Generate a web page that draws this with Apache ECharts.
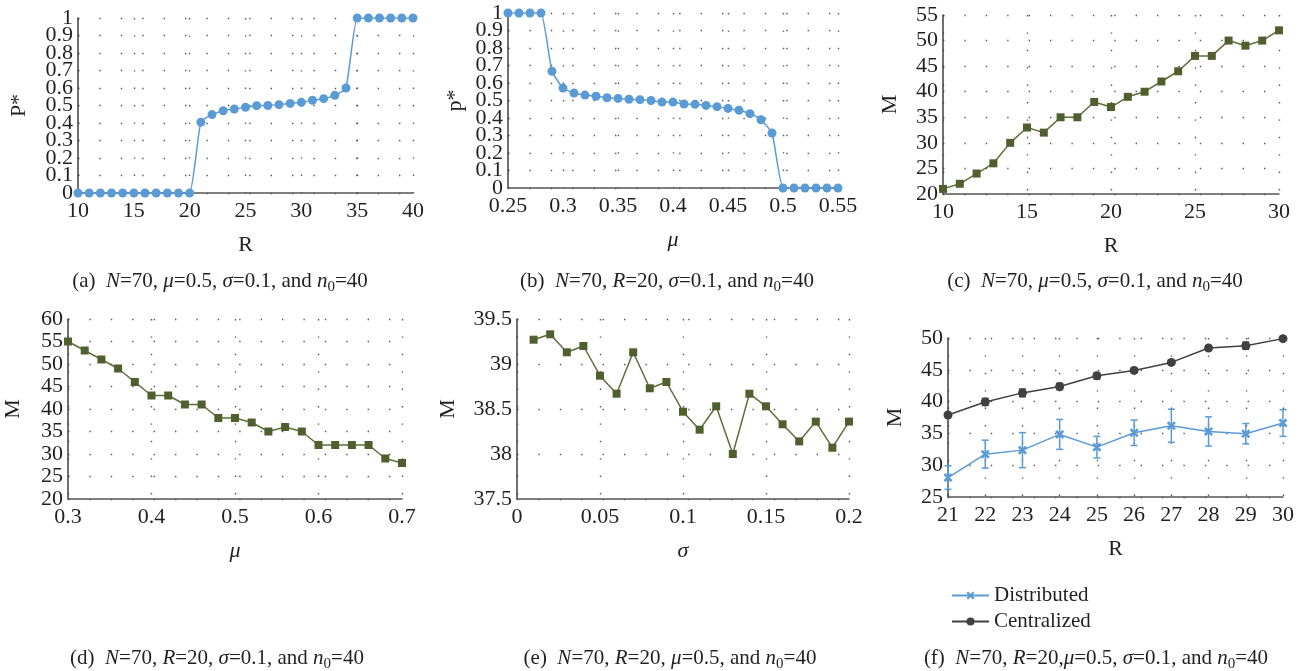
<!DOCTYPE html>
<html>
<head>
<meta charset="utf-8">
<script src="https://cdn.jsdelivr.net/npm/echarts@6/dist/echarts.min.js"></script>
<style>
html, body { margin: 0; padding: 0; background: #fff; }
#main { width: 1306px; height: 671px; }
</style>
</head>
<body>
<div id="main"></div>
<script>
// (a) P* vs R
var rA = [10,11,12,13,14,15,16,17,18,19,20,21,22,23,24,25,26,27,28,29,30,31,32,33,34,35,36,37,38,39,40];
var pA = [0,0,0,0,0,0,0,0,0,0,0,0.405,0.448,0.47,0.48,0.49,0.499,0.5,0.505,0.512,0.518,0.53,0.539,0.558,0.6,1,1,1,1,1,1];

// (b) P* vs mu
var muB = [0.25,0.26,0.27,0.28,0.29,0.30,0.31,0.32,0.33,0.34,0.35,0.36,0.37,0.38,0.39,0.40,0.41,0.42,0.43,0.44,0.45,0.46,0.47,0.48,0.49,0.50,0.51,0.52,0.53,0.54,0.55];
var pB = [1,1,1,1,0.667,0.571,0.543,0.531,0.524,0.516,0.512,0.507,0.505,0.5,0.491,0.491,0.48,0.478,0.472,0.465,0.455,0.444,0.425,0.39,0.314,0,0,0,0,0,0];

// (c) M vs R
var rC = [10,11,12,13,14,15,16,17,18,19,20,21,22,23,24,25,26,27,28,29,30];
var mC = [21,22,24,26,30,33,32,35,35,38,37,39,40,42,44,47,47,50,49,50,52];

// (d) M vs mu
var muD = [0.30,0.32,0.34,0.36,0.38,0.40,0.42,0.44,0.46,0.48,0.50,0.52,0.54,0.56,0.58,0.60,0.62,0.64,0.66,0.68,0.70];
var mD = [55,53,51,49,46,43,43,41,41,38,38,37,35,36,35,32,32,32,32,29,28];

// (e) M vs sigma
var sigE = [0.01,0.02,0.03,0.04,0.05,0.06,0.07,0.08,0.09,0.10,0.11,0.12,0.13,0.14,0.15,0.16,0.17,0.18,0.19,0.20];
var mE = [39.27,39.33,39.13,39.2,38.87,38.67,39.13,38.73,38.8,38.47,38.27,38.53,38.0,38.67,38.53,38.33,38.14,38.36,38.07,38.36];

// (f) distributed vs centralized
var rF = [21,22,23,24,25,26,27,28,29,30];
var distMean = [28.05,31.74,32.37,34.84,32.84,35.1,36.2,35.3,34.95,36.63];
var distErr = [1.85,2.2,2.75,2.35,1.7,2.0,2.6,2.3,1.6,2.1];
var centMean = [37.9,39.95,41.37,42.37,44.05,44.9,46.16,48.42,48.79,49.9];
var centErr = [0.2,0.55,0.6,0.5,0.5,0.3,0.2,0.2,0.55,0.2];

var blue = '#5b9bd5';
var olive = '#4f5f2e';
var dark = '#404040';
var font = 'Liberation Serif';
var txt = '#231f20';

function zip(xs, ys) {
    return xs.map(function (x, i) { return [x, ys[i]]; });
}
function errData(xs, m, e) {
    return xs.map(function (x, i) { return [x, m[i] - e[i], m[i] + e[i]]; });
}

function xAx(idx, min, max, step, name, italic) {
    return {
        type: 'value', gridIndex: idx, min: min, max: max, interval: step,
        name: name, nameLocation: 'middle', nameGap: 41,
        nameTextStyle: { fontFamily: font, fontSize: 22, color: txt, fontStyle: italic ? 'italic' : 'normal' },
        axisLine: { lineStyle: { color: '#555', width: 1.5 } },
        axisTick: { show: false },
        axisLabel: { fontFamily: font, fontSize: 22, color: txt, margin: 7, showMinLabel: true, showMaxLabel: true, hideOverlap: false },
        splitLine: { show: true, lineStyle: { color: '#555', width: 1.4, type: [1.4, 16] } }
    };
}
function yAx(idx, min, max, step, name, gap, skipEnds) {
    return {
        type: 'value', gridIndex: idx, min: min, max: max, interval: step, position: 'left',
        name: name, nameLocation: 'middle', nameGap: gap, nameRotate: 90,
        nameTextStyle: { fontFamily: font, fontSize: 22, color: txt },
        axisLine: { show: true, lineStyle: { color: '#404040', width: 1.5 } },
        axisTick: { show: false },
        axisLabel: { fontFamily: font, fontSize: 22, color: txt, margin: 5,
            showMinLabel: !skipEnds, showMaxLabel: !skipEnds, hideOverlap: false },
        splitLine: { show: true, lineStyle: { color: '#555', width: 1.4, type: [1.4, 20] } }
    };
}
// second axis in the same grid that only carries the end labels (0 and 1)
function yEnds(idx) {
    return {
        type: 'value', gridIndex: idx, min: 0, max: 1, interval: 1, position: 'left', offset: 0,
        axisLine: { show: false }, axisTick: { show: false }, splitLine: { show: false },
        axisLabel: { fontFamily: font, fontSize: 22, color: txt, margin: 5, showMinLabel: true, showMaxLabel: true }
    };
}

function errSeries(name, idx, data, color) {
    return {
        name: name, type: 'custom', xAxisIndex: idx, yAxisIndex: idx, data: data,
        itemStyle: { color: color },
        renderItem: function (params, api) {
            var x = api.value(0);
            var p1 = api.coord([x, api.value(1)]);
            var p2 = api.coord([x, api.value(2)]);
            var st = { stroke: color, lineWidth: 1.5 };
            var w = 3.5;
            return {
                type: 'group',
                children: [
                    { type: 'line', shape: { x1: p1[0], y1: p1[1], x2: p2[0], y2: p2[1] }, style: st },
                    { type: 'line', shape: { x1: p1[0] - w, y1: p1[1], x2: p1[0] + w, y2: p1[1] }, style: st },
                    { type: 'line', shape: { x1: p2[0] - w, y1: p2[1], x2: p2[0] + w, y2: p2[1] }, style: st }
                ]
            };
        }
    };
}

var rich = {
    i: { fontFamily: font, fontSize: 21, fontStyle: 'italic', color: txt },
    s: { fontFamily: font, fontSize: 15, color: txt, padding: [9, 0, 0, 0], lineHeight: 15, verticalAlign: 'top' }
};
function cap(x, y, text) {
    return {
        left: x, top: y, textAlign: 'center', text: text,
        textStyle: { fontFamily: font, fontSize: 21, fontWeight: 'normal', color: txt, rich: rich }
    };
}

var starPath = 'path://M2,0L5,3L8,0L10,2L7,5L10,8L8,10L5,7L2,10L0,8L3,5L0,2Z';

var myChart = echarts.init(document.getElementById('main'));

var option = {
    backgroundColor: '#fff',
    animation: false,
    title: [
        cap(215, 266, '(a)  {i|N}=70, {i|μ}=0.5, {i|σ}=0.1, and {i|n}{s|0}=40'),
        cap(662, 266, '(b)  {i|N}=70, {i|R}=20, {i|σ}=0.1, and {i|n}{s|0}=40'),
        cap(1090, 266, '(c)  {i|N}=70, {i|μ}=0.5, {i|σ}=0.1, and {i|n}{s|0}=40'),
        cap(212, 643, '(d)  {i|N}=70, {i|R}=20, {i|σ}=0.1, and {i|n}{s|0}=40'),
        cap(665, 643, '(e)  {i|N}=70, {i|R}=20, {i|μ}=0.5, and {i|n}{s|0}=40'),
        cap(1091, 643, '(f)  {i|N}=70, {i|R}=20,{i|μ}=0.5, {i|σ}=0.1, and {i|n}{s|0}=40')
    ],
    grid: [
        { left: 78, top: 18, width: 335, height: 175, outerBoundsMode: 'none' },
        { left: 508, top: 13, width: 330, height: 175, outerBoundsMode: 'none' },
        { left: 943, top: 15, width: 336, height: 179, outerBoundsMode: 'none' },
        { left: 68, top: 319, width: 334, height: 180, outerBoundsMode: 'none' },
        { left: 517, top: 319, width: 332, height: 180, outerBoundsMode: 'none' },
        { left: 948, top: 338, width: 335, height: 159, outerBoundsMode: 'none' }
    ],
    xAxis: [
        xAx(0, 10, 40, 5, 'R', false),
        xAx(1, 0.25, 0.55, 0.05, 'μ', true),
        xAx(2, 10, 30, 5, 'R', false),
        xAx(3, 0.3, 0.7, 0.1, 'μ', true),
        xAx(4, 0, 0.2, 0.05, 'σ', true),
        xAx(5, 21, 30, 1, 'R', false)
    ],
    yAxis: [
        yAx(0, 0, 1, 0.1, 'P*', 48, true),
        yAx(1, 0, 1, 0.1, 'p*', 42, true),
        yAx(2, 20, 55, 5, 'M', 42),
        yAx(3, 20, 60, 5, 'M', 44),
        yAx(4, 37.5, 39.5, 0.5, 'M', 58),
        yAx(5, 25, 50, 5, 'M', 42),
        yEnds(0),
        yEnds(1)
    ],
    legend: {
        data: ['Distributed', 'Centralized'],
        orient: 'vertical', left: 946, top: 580,
        itemWidth: 37, itemHeight: 10, itemGap: 5,
        textStyle: { fontFamily: font, fontSize: 21, color: txt }
    },
    series: [
        { type: 'line', xAxisIndex: 0, yAxisIndex: 0, data: zip(rA, pA), smooth: 0.15,
          symbol: 'circle', symbolSize: 9, itemStyle: { color: blue }, lineStyle: { color: blue, width: 1.5 } },
        { type: 'line', xAxisIndex: 1, yAxisIndex: 1, data: zip(muB, pB), smooth: 0.15,
          symbol: 'circle', symbolSize: 9, itemStyle: { color: blue }, lineStyle: { color: blue, width: 1.5 } },
        { type: 'line', xAxisIndex: 2, yAxisIndex: 2, data: zip(rC, mC),
          symbol: 'rect', symbolSize: 8, itemStyle: { color: olive }, lineStyle: { color: '#5f6e3a', width: 1.5 } },
        { type: 'line', xAxisIndex: 3, yAxisIndex: 3, data: zip(muD, mD),
          symbol: 'rect', symbolSize: 8, itemStyle: { color: olive }, lineStyle: { color: '#5f6e3a', width: 1.5 } },
        { type: 'line', xAxisIndex: 4, yAxisIndex: 4, data: zip(sigE, mE),
          symbol: 'rect', symbolSize: 8, itemStyle: { color: olive }, lineStyle: { color: '#5f6e3a', width: 1.5 } },
        errSeries('distErr', 5, errData(rF, distMean, distErr), blue),
        errSeries('centErr', 5, errData(rF, centMean, centErr), dark),
        { name: 'Distributed', type: 'line', xAxisIndex: 5, yAxisIndex: 5, data: zip(rF, distMean),
          symbol: starPath, symbolSize: 9, itemStyle: { color: blue }, lineStyle: { color: blue, width: 1.5 } },
        { name: 'Centralized', type: 'line', xAxisIndex: 5, yAxisIndex: 5, data: zip(rF, centMean),
          symbol: 'circle', symbolSize: 9, itemStyle: { color: dark }, lineStyle: { color: dark, width: 1.5 } }
    ]
};

myChart.setOption(option);
</script>
</body>
</html>
